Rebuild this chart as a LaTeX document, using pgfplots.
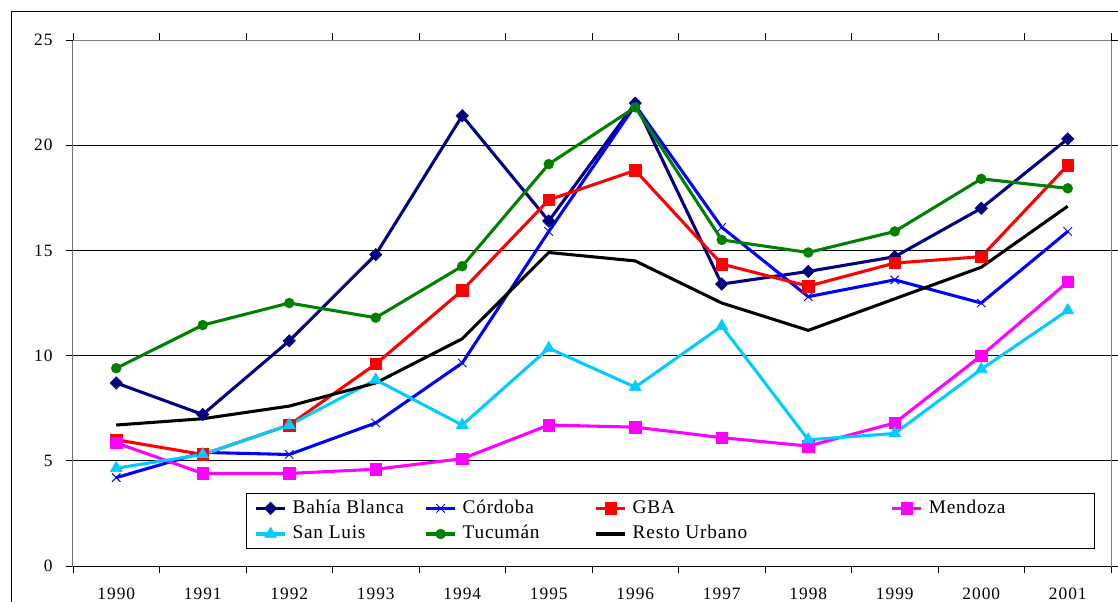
\documentclass[border=0pt]{standalone}
\usepackage{pgfplots}
\pgfplotsset{compat=1.18}
\usepackage{pgfplotstable}
\usepackage{fontspec}
\setmainfont{Liberation Serif}
\newfontfamily\tickfont[LetterSpace=6]{Liberation Serif}
\newfontfamily\legfont[LetterSpace=4]{Liberation Serif}

\definecolor{navy}{RGB}{0,0,128}
\definecolor{xlblue}{RGB}{0,0,255}
\definecolor{xlred}{RGB}{255,0,0}
\definecolor{xlmag}{RGB}{255,0,255}
\definecolor{xlcyan}{RGB}{0,204,255}
\definecolor{xlgreen}{RGB}{0,128,0}

\newcommand\legbox[2]{\makebox[#1][l]{\hspace{4.5pt}#2}}

\pgfplotstableread{
x BB Co GBA Me SL Tu RU
0 8.7 4.2 6.0 5.85 4.65 9.4 6.7
1 7.2 5.4 5.3 4.4 5.3 11.45 7.0
2 10.7 5.3 6.7 4.4 6.7 12.5 7.6
3 14.8 6.8 9.6 4.6 8.85 11.8 8.7
4 21.4 9.65 13.1 5.1 6.7 14.25 10.8
5 16.4 15.9 17.4 6.7 10.35 19.1 14.9
6 22.0 21.9 18.8 6.6 8.5 21.8 14.5
7 13.4 16.1 14.35 6.1 11.4 15.5 12.5
8 14.0 12.8 13.3 5.7 6.0 14.9 11.2
9 14.7 13.6 14.4 6.8 6.3 15.9 12.7
10 17.0 12.5 14.7 10.0 9.35 18.4 14.2
11 20.3 15.9 19.05 13.5 12.15 17.95 17.1
}\data

\begin{document}
\begin{tikzpicture}[x=1pt,y=1pt]
\useasboundingbox (0,0) rectangle (838.5,450.75);
\draw[black, line width=0.75pt] (8.25,-20) -- (8.25,441.75) -- (860,441.75);
\begin{axis}[
  at={(54.75pt,26.25pt)}, anchor=south west,
  scale only axis, width=778.5pt, height=394.5pt,
  xmin=-0.5, xmax=11.5, ymin=0, ymax=25,
  xtick={-0.5,0.5,1.5,2.5,3.5,4.5,5.5,6.5,7.5,8.5,9.5,10.5,11.5},
  x tick label as interval,
  xticklabels={1990,1991,1992,1993,1994,1995,1996,1997,1998,1999,2000,2001},
  ytick={0,5,10,15,20}, extra y ticks={25}, extra y tick style={grid=none},
  ymajorgrids, grid style={black, line width=0.6pt},
  tick align=outside, major tick length=5.25pt,
  tick style={black, line width=0.6pt},
  axis line style={gray, line width=0.75pt},
  tick label style={font=\tickfont\fontsize{13pt}{15pt}\selectfont},
  xticklabel style={yshift=-7.5pt},
  yticklabel style={xshift=-6.5pt},
  /pgf/number format/assume math mode=true,
  legend columns=4,
  legend cell align=left,
  legend style={at={(0.1667,0.1388)}, anchor=north west, draw=black, line width=0.75pt,
    inner xsep=6pt, inner ysep=1.5pt, column sep=0pt, row sep=0pt,
    font=\legfont\fontsize{14.5pt}{17pt}\selectfont,
    nodes={inner xsep=0pt, inner ysep=2.875pt, text height=10.5pt, text depth=3pt}},
  legend image code/.code={\draw[mark repeat=2,mark phase=2,#1] plot coordinates {(0pt,0pt) (10.875pt,0pt) (21.75pt,0pt)};},
]
\addplot[navy, line width=2.3pt, mark=square*, mark size=3.3pt, mark options={solid, rotate=45, line width=0.4pt}] table[x=x,y=BB]{\data};
\addlegendentry{\legbox{103.5pt}{Bahía Blanca}}
\addplot[xlblue, line width=2.3pt, mark=x, mark size=4.5pt, mark options={solid, line width=0.7pt}] table[x=x,y=Co]{\data};
\addlegendentry{\legbox{103.5pt}{Córdoba}}
\addplot[xlred, line width=2.3pt, mark=square*, mark size=4.3pt, mark options={solid, line width=0.4pt}] table[x=x,y=GBA]{\data};
\addlegendentry{\legbox{198pt}{GBA}}
\addplot[xlmag, line width=2.3pt, mark=square*, mark size=4.3pt, mark options={solid, line width=0.4pt}] table[x=x,y=Me]{\data};
\addlegendentry{\legbox{123pt}{Mendoza}}
\addplot[xlcyan, line width=2.3pt, mark=triangle*, mark size=5.2pt, mark options={solid, line width=0.4pt}] table[x=x,y=SL]{\data};
\addlegendentry{\legbox{103.5pt}{San Luis}}
\addplot[xlgreen, line width=2.3pt, mark=*, mark size=3.7pt, mark options={solid, line width=0.4pt}] table[x=x,y=Tu]{\data};
\addlegendentry{\legbox{103.5pt}{Tucumán}}
\addplot[black, line width=2.3pt, no markers] table[x=x,y=RU]{\data};
\addlegendentry{\legbox{198pt}{Resto Urbano}}
\draw[black, line width=0.75pt] (rel axis cs:0,0) -- (rel axis cs:0,1);
\draw[black, line width=0.75pt] (rel axis cs:0,0) -- (rel axis cs:1,0);
\end{axis}
\end{tikzpicture}
\end{document}
